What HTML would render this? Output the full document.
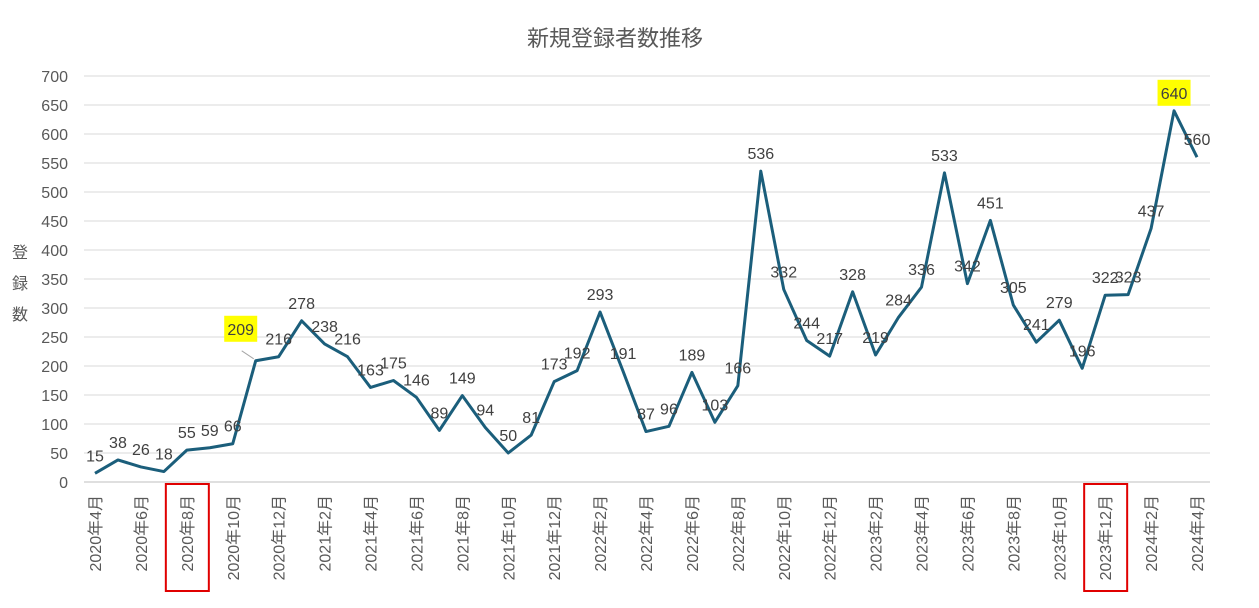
<!DOCTYPE html>
<html><head><meta charset="utf-8"><style>
body{margin:0;background:#fff;}
svg{display:block;font-family:"Liberation Sans","Noto Sans CJK JP",sans-serif;}
</style></head><body>
<svg id="c" width="1259" height="608"></svg>
<script>
const categories=[];
const startYear=2020,startMonth=4;
const values=[15,38,26,18,55,59,66,209,216,278,238,216,163,175,146,89,149,94,50,81,173,192,293,191,87,96,189,103,166,536,332,244,217,328,219,284,336,533,342,451,305,241,279,196,322,323,437,640,560];
for(let i=0;i<values.length;i++){const m=startMonth-1+i;categories.push((startYear+Math.floor(m/12))+'年'+(m%12+1)+'月');}
const yTicks=[0,50,100,150,200,250,300,350,400,450,500,550,600,650,700];
const highlighted=['2020年11月','2024年3月'];
const boxed=['2020年8月','2023年12月'];
const NS='http://www.w3.org/2000/svg';
const svg=document.getElementById('c');
const x0=95,x1=1197,yB=482,yT=76,yMax=700;
const xs=i=>x0+(x1-x0)*i/(values.length-1);
const ys=v=>yB-(yB-yT)*v/yMax;
function mk(t,a,p){const e=document.createElementNS(NS,t);for(const k in a)e.setAttribute(k,a[k]);(p||svg).appendChild(e);return e;}
let t=mk('text',{x:615,y:46,'text-anchor':'middle','font-size':22,fill:'#595959'});t.textContent='新規登録者数推移';


['登','録','数'].forEach((c,i)=>{const e=mk('text',{x:20,y:258+i*31,'text-anchor':'middle','font-size':16,fill:'#595959'});e.textContent=c;

});
yTicks.forEach(v=>{const g=mk('line',{x1:84,x2:1210,y1:ys(v),y2:ys(v),stroke:v===0?'#bfbfbf':'#d9d9d9','stroke-width':1});


const l=mk('text',{x:68,y:ys(v)+6,'text-anchor':'end','font-size':16,fill:'#595959'});l.textContent=v;

});
categories.forEach((c,i)=>{if(i%2)return;const x=xs(i);
const l=mk('text',{transform:`translate(${x+6},495) rotate(-90)`,'text-anchor':'end','font-size':16,fill:'#595959'});l.textContent=c;


if(boxed.includes(c)){const r=mk('rect',{x:x-21,y:484,width:43,height:107,fill:'none',stroke:'#e00000','stroke-width':2});

}});
const line=mk('polyline',{points:values.map((v,i)=>xs(i)+','+ys(v)).join(' '),fill:'none',stroke:'#1b5e7b','stroke-width':3,'stroke-linejoin':'round'});


values.forEach((v,i)=>{const x=xs(i),y=ys(v);
const hl=highlighted.includes(categories[i]);
let lx=x,ly=y-12;
if(hl&&i<10){lx=x-15;ly=y-26;const ld=mk('line',{x1:x-2,y1:y-2,x2:x-14,y2:y-10,stroke:'#a6a6a6','stroke-width':1});

}
if(hl){const w=String(v).length*9+6;const r=mk('rect',{x:lx-w/2,y:ly-19,width:w,height:26,fill:'#ffff00'});

}
const l=mk('text',{x:lx,y:ly,'text-anchor':'middle','font-size':16,fill:'#404040'});l.textContent=v;

});
</script>
</body></html>
